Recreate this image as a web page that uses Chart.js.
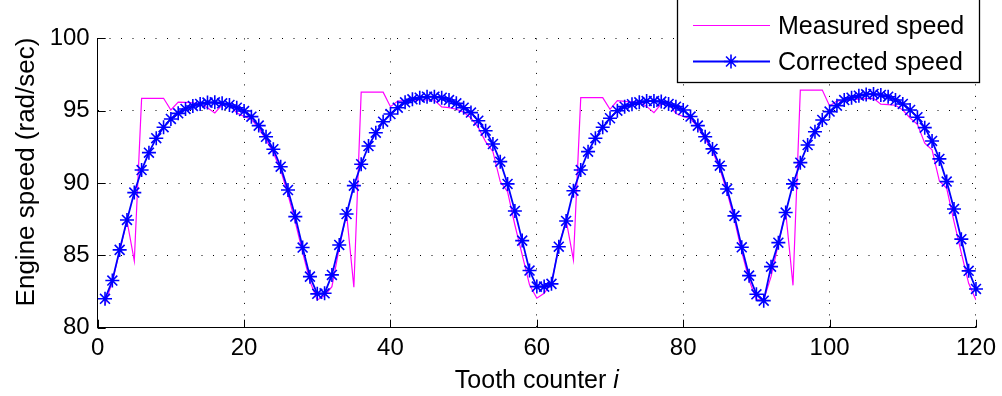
<!DOCTYPE html>
<html><head><meta charset="utf-8">
<script src="https://cdn.jsdelivr.net/npm/chart.js@4.4.1/dist/chart.umd.min.js"></script>
<style>html,body{margin:0;padding:0;background:#fff;overflow:hidden}canvas{display:block}</style>
</head><body>
<canvas id="c" width="1002" height="396"></canvas>
<script>
const toothCounter = [1,2,3,4,5,6,7,8,9,10,11,12,13,14,15,16,17,18,19,20,
21,22,23,24,25,26,27,28,29,30,31,32,33,34,35,36,37,38,39,40,
41,42,43,44,45,46,47,48,49,50,51,52,53,54,55,56,57,58,59,60,
61,62,63,64,65,66,67,68,69,70,71,72,73,74,75,76,77,78,79,80,
81,82,83,84,85,86,87,88,89,90,91,92,93,94,95,96,97,98,99,100,
101,102,103,104,105,106,107,108,109,110,111,112,113,114,115,116,117,118,119,120];

const measuredSpeed = [81.6,83.2,85.3,87.4,84.62,95.86,95.86,95.86,95.86,95.05,
95.6,95.58,95.55,95.45,95.2,94.85,95.4,95.45,94.85,94.6,
94.4,93.8,93.0,92.1,90.9,89.2,87.3,85.2,83.2,81.92,
82.2,82.84,85.5,87.9,82.8,96.28,96.28,96.28,96.28,95.28,
95.67,95.7,95.72,95.74,95.74,95.74,95.26,95.22,95.1,94.9,
94.5,93.85,92.86,92.17,90.1,89.4,87.1,85.03,82.96,82.04,
82.38,83.08,85.6,87.45,84.69,95.9,95.9,95.9,95.9,95.1,
95.7,95.65,95.62,95.6,95.3,94.87,95.47,95.5,94.8,94.6,
94.45,93.85,93.05,92.2,91.0,89.35,87.45,85.25,83.3,81.92,
81.92,83.53,85.8,88.03,82.93,96.43,96.43,96.43,96.43,95.33,
95.67,95.72,95.76,95.8,95.83,95.86,95.45,95.42,95.38,95.05,
94.5,94.06,92.75,92.29,90.14,89.64,87.33,85.15,83.07,81.92];

const correctedSpeed = [82.0,83.26,85.38,87.45,89.34,90.9,92.1,93.1,93.86,94.43,
94.82,95.12,95.33,95.47,95.56,95.58,95.51,95.4,95.21,94.98,
94.59,93.97,93.2,92.34,91.13,89.52,87.68,85.54,83.53,82.34,
82.38,83.65,85.72,87.86,89.82,91.3,92.56,93.48,94.24,94.77,
95.21,95.58,95.79,95.9,95.97,95.97,95.9,95.74,95.51,95.21,
94.87,94.31,93.62,92.7,91.48,89.94,88.07,86.02,83.95,82.84,
82.84,83.03,85.6,87.38,89.47,90.9,92.17,93.1,93.86,94.48,
95.0,95.28,95.45,95.58,95.67,95.67,95.63,95.47,95.28,95.05,
94.6,93.97,93.2,92.36,91.2,89.59,87.73,85.56,83.6,82.31,
81.87,84.22,85.88,87.96,89.94,91.41,92.63,93.55,94.36,94.94,
95.35,95.74,95.9,96.04,96.13,96.16,96.09,95.97,95.74,95.47,
95.05,94.55,93.83,92.91,91.67,90.1,88.21,86.12,83.93,82.68];

const xTicks = [0,20,40,60,80,100,120];
const yTicks = [80,85,90,95,100];
const seriesNames = ['Measured speed','Corrected speed'];
const xTitleText = 'Tooth counter ';
const xTitleItalic = 'i';
const yTitleText = 'Engine speed (rad/sec)';

const FONT = '"Liberation Sans", Arial, Helvetica, sans-serif';
const MAGENTA = '#FF00FF';
const BLUE = '#0000FF';

function drawStar(ctx, x, y, r, color, lw) {
  ctx.save();
  ctx.strokeStyle = color; ctx.lineWidth = lw;
  ctx.beginPath();
  ctx.moveTo(x - r, y); ctx.lineTo(x + r, y);
  ctx.moveTo(x, y - r); ctx.lineTo(x, y + r);
  const d = r * Math.SQRT1_2;
  ctx.moveTo(x - d, y - d); ctx.lineTo(x + d, y + d);
  ctx.moveTo(x - d, y + d); ctx.lineTo(x + d, y - d);
  ctx.stroke();
  ctx.restore();
}

const decor = {
  id: 'decor',
  afterDraw(chart) {
    const {ctx, chartArea: a, scales: {x, y}} = chart;
    ctx.save();
    ctx.strokeStyle = '#000'; ctx.lineWidth = 1;
    ctx.beginPath();
    xTicks.forEach(v => {
      const px = Math.round(x.getPixelForValue(v)) + 0.5;
      ctx.moveTo(px, a.bottom); ctx.lineTo(px, a.bottom - 8);
    });
    yTicks.forEach(v => {
      const py = Math.round(y.getPixelForValue(v)) + 0.5;
      ctx.moveTo(a.left, py); ctx.lineTo(a.left + 8, py);
    });
    ctx.stroke();

    ctx.fillStyle = '#000';
    ctx.textBaseline = 'alphabetic';
    ctx.textAlign = 'left';
    ctx.font = '25px ' + FONT;
    const w1 = ctx.measureText(xTitleText).width;
    ctx.font = 'italic 25px ' + FONT;
    const w2 = ctx.measureText(xTitleItalic).width;
    const cx = (a.left + a.right) / 2;
    const sx = cx - (w1 + w2) / 2;
    ctx.font = '25px ' + FONT;
    ctx.fillText(xTitleText, sx, 388);
    ctx.font = 'italic 25px ' + FONT;
    ctx.fillText(xTitleItalic, sx + w1, 388);

    ctx.save();
    ctx.translate(33.5, 172);
    ctx.rotate(-Math.PI / 2);
    ctx.font = '26px ' + FONT;
    ctx.textAlign = 'center';
    ctx.fillText(yTitleText, 0, 0);
    ctx.restore();

    const L = 677.5, R = 979.5, T = -5, B = 82.5;
    ctx.fillStyle = '#fff';
    ctx.fillRect(L, T, R - L, B - T);
    ctx.strokeStyle = '#000'; ctx.lineWidth = 1.3;
    ctx.strokeRect(L, T, R - L, B - T);
    const rows = [{y: 25, color: MAGENTA, lw: 1.2, star: false}, {y: 61, color: BLUE, lw: 1.8, star: true}];
    rows.forEach((r, i) => {
      ctx.strokeStyle = r.color; ctx.lineWidth = r.lw;
      ctx.beginPath(); ctx.moveTo(693, r.y + 0.5); ctx.lineTo(770, r.y + 0.5); ctx.stroke();
      if (r.star) drawStar(ctx, 731, r.y + 0.5, 7, BLUE, 1.6);
      ctx.fillStyle = '#000';
      ctx.font = '25px ' + FONT;
      ctx.textAlign = 'left';
      ctx.textBaseline = 'alphabetic';
      ctx.fillText(seriesNames[i], 778, r.y + 8.5);
    });
    ctx.restore();
  }
};

const ctx = document.getElementById('c').getContext('2d');
new Chart(ctx, {
  type: 'line',
  data: {
    datasets: [
      {
        label: seriesNames[0],
        data: toothCounter.map((t, i) => ({x: t, y: measuredSpeed[i]})),
        borderColor: MAGENTA, borderWidth: 1.2, pointRadius: 0, tension: 0, fill: false, order: 1
      },
      {
        label: seriesNames[1],
        data: toothCounter.map((t, i) => ({x: t, y: correctedSpeed[i]})),
        borderColor: BLUE, borderWidth: 1.8, pointStyle: 'star', pointRadius: 7,
        pointBorderColor: BLUE, pointBackgroundColor: BLUE, pointBorderWidth: 1.6,
        tension: 0, fill: false, order: 0, clip: false
      }
    ]
  },
  options: {
    responsive: false, animation: false, devicePixelRatio: 1,
    layout: {padding: {left: 0, top: 38.4, right: 24.3, bottom: 0}},
    plugins: {legend: {display: false}, tooltip: {enabled: false}, title: {display: false}},
    scales: {
      x: {
        type: 'linear', min: 0, max: 120,
        afterBuildTicks: s => { s.ticks = xTicks.map(v => ({value: v})); },
        afterFit: s => { s.height = 68.3; },
        ticks: {color: '#000', font: {family: FONT, size: 24}, padding: 6, maxRotation: 0, autoSkip: false},
        grid: {color: '#000', lineWidth: 1, drawTicks: false},
        border: {display: true, color: '#000', width: 1, dash: [1, 10.5]}
      },
      y: {
        type: 'linear', min: 80, max: 100,
        afterBuildTicks: s => { s.ticks = yTicks.map(v => ({value: v})); },
        afterFit: s => { s.width = 97.7; },
        ticks: {color: '#000', font: {family: FONT, size: 24}, padding: 8, autoSkip: false},
        grid: {color: '#000', lineWidth: 1, drawTicks: false},
        border: {display: true, color: '#000', width: 1, dash: [1, 10.5]}
      }
    }
  },
  plugins: [decor]
});
</script>
</body></html>
